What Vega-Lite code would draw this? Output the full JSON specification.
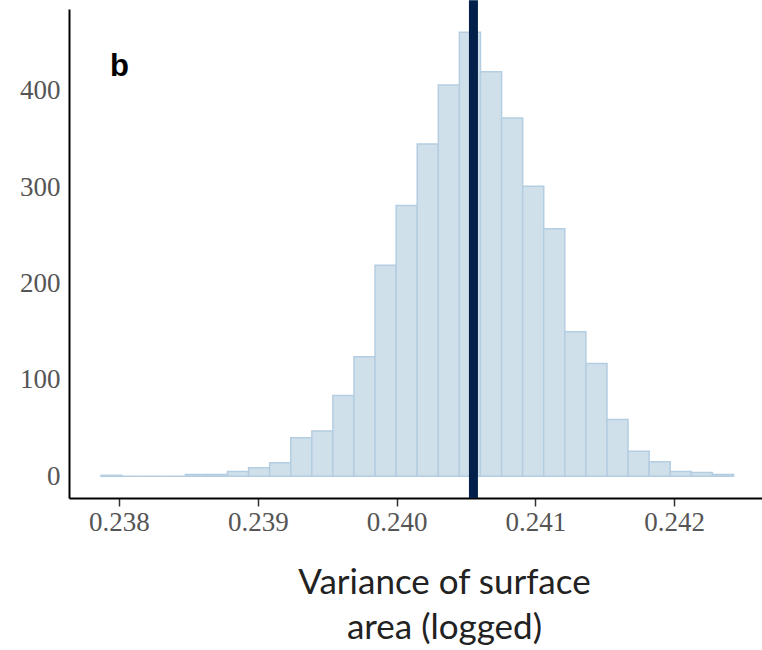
{
  "$schema": "https://vega.github.io/schema/vega-lite/v6.json",
  "width": 693,
  "height": 489,
  "autosize": {"type": "none"},
  "padding": {"left": 69, "top": 9, "right": 0, "bottom": 152},
  "background": "white",
  "config": {"view": {"stroke": null}},
  "datasets": {
    "bins": [
      {"bin_start": 0.2378705, "bin_end": 0.2380224, "count": 1},
      {"bin_start": 0.2380224, "bin_end": 0.2381743, "count": 0},
      {"bin_start": 0.2381743, "bin_end": 0.2383262, "count": 0},
      {"bin_start": 0.2383262, "bin_end": 0.2384781, "count": 0},
      {"bin_start": 0.2384781, "bin_end": 0.2386300, "count": 2},
      {"bin_start": 0.2386300, "bin_end": 0.2387819, "count": 2},
      {"bin_start": 0.2387819, "bin_end": 0.2389338, "count": 5},
      {"bin_start": 0.2389338, "bin_end": 0.2390857, "count": 9},
      {"bin_start": 0.2390857, "bin_end": 0.2392376, "count": 14},
      {"bin_start": 0.2392376, "bin_end": 0.2393895, "count": 40},
      {"bin_start": 0.2393895, "bin_end": 0.2395414, "count": 47},
      {"bin_start": 0.2395414, "bin_end": 0.2396933, "count": 84},
      {"bin_start": 0.2396933, "bin_end": 0.2398452, "count": 124},
      {"bin_start": 0.2398452, "bin_end": 0.2399971, "count": 219},
      {"bin_start": 0.2399971, "bin_end": 0.2401490, "count": 281},
      {"bin_start": 0.2401490, "bin_end": 0.2403009, "count": 345},
      {"bin_start": 0.2403009, "bin_end": 0.2404528, "count": 406},
      {"bin_start": 0.2404528, "bin_end": 0.2406047, "count": 461},
      {"bin_start": 0.2406047, "bin_end": 0.2407566, "count": 420},
      {"bin_start": 0.2407566, "bin_end": 0.2409085, "count": 372},
      {"bin_start": 0.2409085, "bin_end": 0.2410604, "count": 301},
      {"bin_start": 0.2410604, "bin_end": 0.2412123, "count": 257},
      {"bin_start": 0.2412123, "bin_end": 0.2413642, "count": 150},
      {"bin_start": 0.2413642, "bin_end": 0.2415161, "count": 117},
      {"bin_start": 0.2415161, "bin_end": 0.2416680, "count": 59},
      {"bin_start": 0.2416680, "bin_end": 0.2418199, "count": 26},
      {"bin_start": 0.2418199, "bin_end": 0.2419718, "count": 15},
      {"bin_start": 0.2419718, "bin_end": 0.2421237, "count": 5},
      {"bin_start": 0.2421237, "bin_end": 0.2422756, "count": 4},
      {"bin_start": 0.2422756, "bin_end": 0.2424275, "count": 2}
    ],
    "stat": [{"value": 0.240554, "top": 494, "bottom": -22.5}],
    "label": [{"x": 0.237935, "y": 415, "text": "b"}]
  },
  "layer": [
    {
      "data": {"name": "bins"},
      "mark": {"type": "bar", "fill": "#d0e0eb", "stroke": "#b4cde1", "strokeWidth": 1.5},
      "encoding": {
        "x": {
          "field": "bin_start",
          "type": "quantitative",
          "scale": {"domain": [0.23764, 0.242633], "nice": false, "zero": false},
          "axis": {
            "values": [0.238, 0.239, 0.24, 0.241, 0.242],
            "format": ".3f",
            "grid": false,
            "domainColor": "#000000",
            "domainWidth": 2,
            "tickColor": "#333333",
            "tickWidth": 1.5,
            "tickSize": 8,
            "labelFont": "Liberation Serif",
            "labelFontSize": 27,
            "labelColor": "#555555",
            "labelPadding": 3,
            "title": ["Variance of surface", "area (logged)"],
            "titleFont": "Lato",
            "titleFontSize": 35,
            "titleFontWeight": "normal",
            "titleColor": "#222222",
            "titleLineHeight": 45,
            "titlePadding": 30,
            "titleX": 375
          }
        },
        "x2": {"field": "bin_end"},
        "y": {
          "field": "count",
          "type": "quantitative",
          "scale": {"domain": [-22.5, 485], "nice": false, "zero": false},
          "axis": {
            "values": [0, 100, 200, 300, 400],
            "grid": false,
            "ticks": false,
            "domainColor": "#000000",
            "domainWidth": 2,
            "labelFont": "Liberation Serif",
            "labelFontSize": 27,
            "labelColor": "#555555",
            "labelPadding": 9,
            "title": null
          }
        },
        "y2": {"datum": 0}
      }
    },
    {
      "data": {"name": "stat"},
      "mark": {"type": "rule", "color": "#02204a", "strokeWidth": 9, "clip": false},
      "encoding": {
        "x": {"field": "value", "type": "quantitative"},
        "y": {"field": "top", "type": "quantitative"},
        "y2": {"field": "bottom"}
      }
    },
    {
      "data": {"name": "label"},
      "mark": {"type": "text", "font": "Liberation Sans", "fontWeight": "bold", "fontSize": 31, "align": "left", "baseline": "alphabetic", "color": "#000000"},
      "encoding": {
        "x": {"field": "x", "type": "quantitative"},
        "y": {"field": "y", "type": "quantitative"},
        "text": {"field": "text"}
      }
    }
  ]
}
